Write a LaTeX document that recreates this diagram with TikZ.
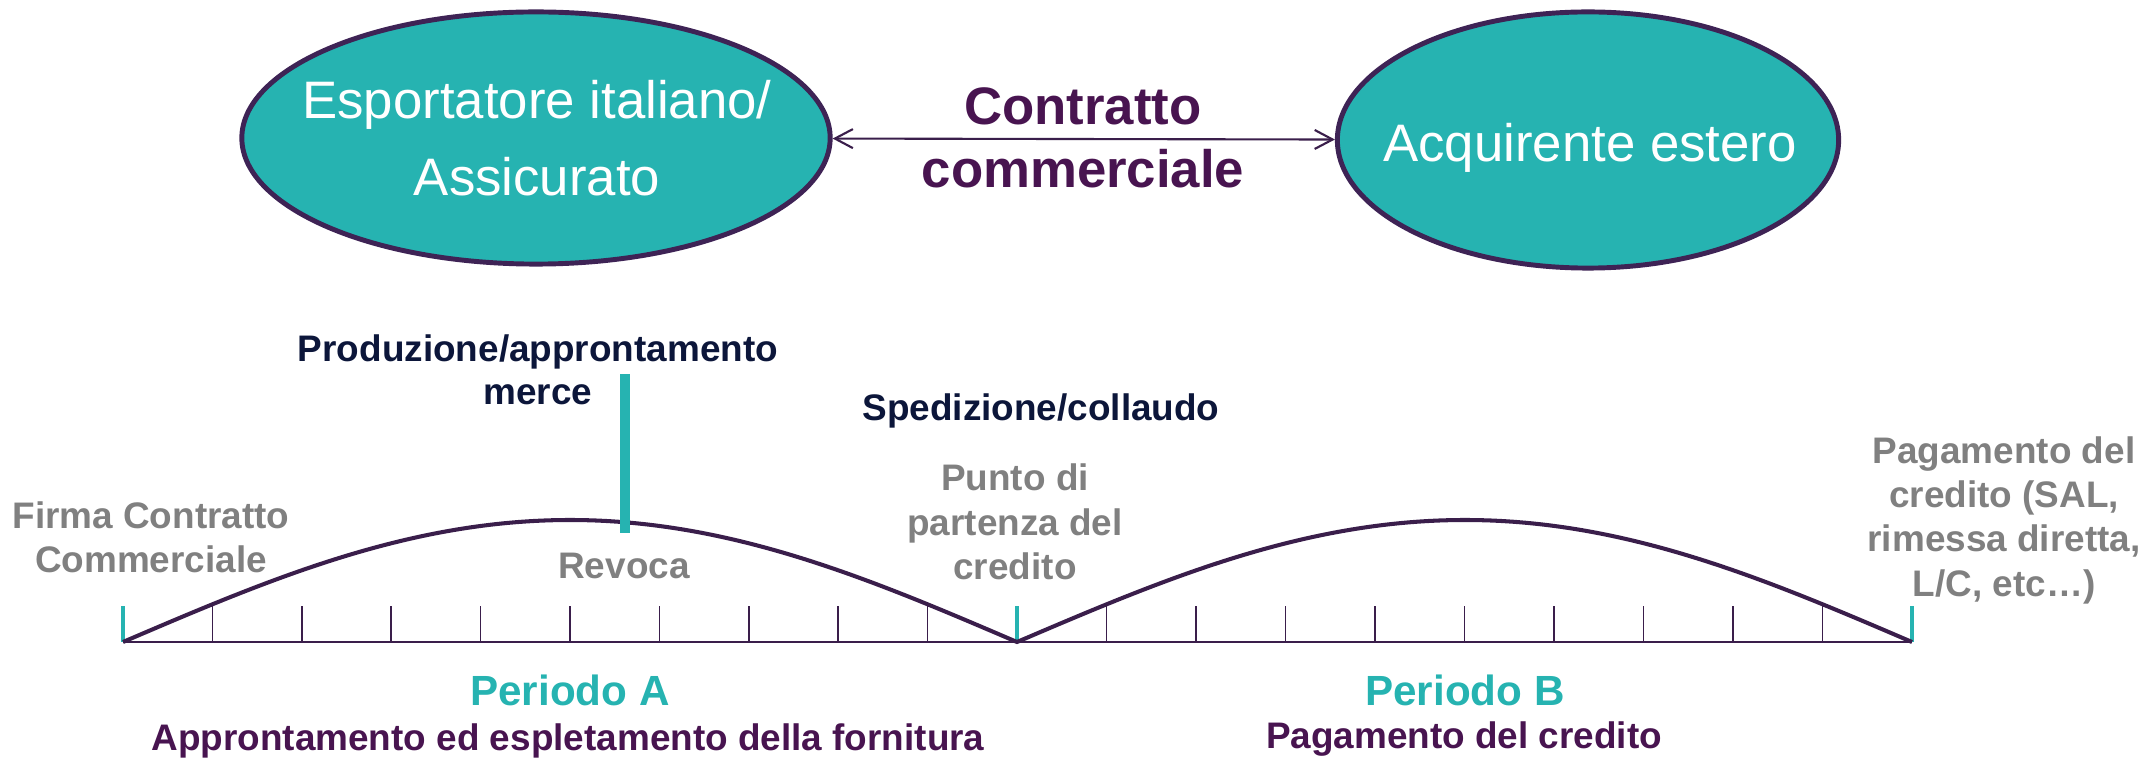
\documentclass[tikz,border=0pt]{standalone}
\usepackage{fontspec}
\setmainfont{Liberation Sans}
\usepackage{xcolor}
\usetikzlibrary{shapes,arrows.meta}
\definecolor{tealA}{RGB}{38,179,177}
\definecolor{rimA}{RGB}{62,35,85}
\definecolor{plumA}{RGB}{72,20,80}
\definecolor{navyA}{RGB}{12,22,58}
\definecolor{greyA}{RGB}{128,128,128}
\definecolor{lineA}{RGB}{58,30,75}

\begin{document}
\begin{tikzpicture}[x=0.01cm, y=-0.01cm, >={Straight Barb[length=1.8mm,width=1.9mm]},
  party/.style={ellipse, draw=rimA, fill=tealA, line width=1.4pt, inner sep=0pt},
  party text/.style={text=white, align=center, inner sep=0pt, font=\fontsize{15}{21.9}\selectfont},
  deal node/.style={text=plumA, align=center, inner sep=0pt, font=\bfseries\fontsize{15}{17.9}\selectfont},
  navy node/.style={text=navyA, align=center, inner sep=0pt, font=\bfseries\fontsize{10.5}{12.2}\selectfont},
  grey node/.style={text=greyA, align=center, inner sep=0pt, font=\bfseries\fontsize{10.5}{12.6}\selectfont},
  period node/.style={text=tealA, inner sep=0pt, anchor=base, font=\bfseries\fontsize{12}{14}\selectfont},
  phase node/.style={text=plumA, inner sep=0pt, anchor=base, font=\bfseries\fontsize{10.5}{12.6}\selectfont},
  small tick/.style={draw=lineA, line width=0.45pt},
  mark tick/.style={draw=tealA, line width=1pt}]
\useasboundingbox (0,0) rectangle (2146,758);

% the two parties
\node[party, minimum width=5.88cm, minimum height=2.52cm] (1) at (536,138) {};
\node[party text] (1t) at (537,138) {Esportatore italiano/\\Assicurato};
\node[party, minimum width=5.01cm, minimum height=2.56cm] (2) at (1588,140) {};
\node[party text, anchor=base] (2t) at (1590,162) {Acquirente estero};
\draw[<->, draw=lineA, line width=0.6pt] (1) -- (2);
\node[deal node] (3) at (1083,138) {Contratto\\commerciale};

% timeline
\coordinate (a) at (123,642);
\coordinate (b) at (1017,642);
\coordinate (c) at (1912,642);
\draw[draw=lineA, line width=0.6pt] (a) -- (c);
\foreach \i in {1,...,9} {
  \draw[small tick] (123+89.4*\i,642) -- ++(0,-36);
  \draw[small tick] (1017+89.5*\i,642) -- ++(0,-36);
}
\foreach \p in {a,b,c}
  \draw[mark tick] (\p) -- ++(0,-36);
\draw[draw=lineA, line width=1.15pt] (a) sin (570,520) cos (b) sin (1465,520) cos (c);
\draw[tealA, line width=2.85pt] (625,374) -- (625,533);

% labels
\node[navy node] (4) at (538,370) {Produzione/approntamento\\merce};
\node[navy node, anchor=base] (5) at (1041,420) {Spedizione/collaudo};
\node[grey node] (6) at (151,537) {Firma Contratto\\Commerciale};
\node[grey node, anchor=base] (7) at (624,578) {Revoca};
\node[grey node] (8) at (1015,522) {Punto di\\partenza del\\credito};
\node[grey node] (9) at (2004,520) {Pagamento del\\credito (SAL,\\rimessa diretta,\\L/C, etc…)};
\node[period node] (10) at (570,705) {Periodo A};
\node[period node] (11) at (1465,705) {Periodo B};
\node[phase node] (12) at (568,750) {Approntamento ed espletamento della fornitura};
\node[phase node] (13) at (1464,748) {Pagamento del credito};
\end{tikzpicture}
\end{document}
